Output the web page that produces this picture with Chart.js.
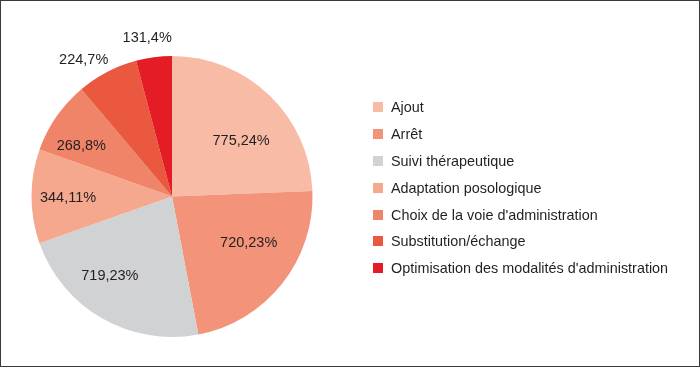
<!DOCTYPE html>
<html>
<head>
<meta charset="utf-8">
<script src="https://cdn.jsdelivr.net/npm/chart.js@4"></script>
<style>
    html, body { margin: 0; padding: 0; background: #fff; }
    #frame {
        position: relative;
        width: 700px;
        height: 367px;
        box-sizing: border-box;
        border: 1px solid #3a3a3a;
        font-family: "Liberation Sans", Arial, Helvetica, sans-serif;
    }
    #chartBox { position: absolute; left: -1px; top: -1px; width: 700px; height: 367px; }
    #legend { position: absolute; left: 372px; top: 93px; margin: 0; padding: 0; list-style: none; }
    #legend li { height: 26.8px; display: flex; align-items: center; font-size: 14.4px; color: #231f20; }
    #legend span { display: inline-block; width: 10px; height: 10px; margin-right: 8px; }
</style>
</head>
<body>
<div id="frame">
    <div id="chartBox"><canvas id="pieChart"></canvas></div>
    <ul id="legend"></ul>
</div>
<script>
const categories = ['Ajout', 'Arrêt', 'Suivi thérapeutique', 'Adaptation posologique',
    "Choix de la voie d'administration", 'Substitution/échange', "Optimisation des modalités d'administration"];
const counts = [775, 720, 719, 344, 268, 224, 131];
const percents = [24, 23, 23, 11, 8, 7, 4];
const colors = ['#F8BCA6', '#F2937A', '#D1D2D4', '#F6A88F', '#EF8468', '#E9583F', '#E31C25'];

// placement des libellés : distance au centre (fraction du rayon) et décalage d'angle (degrés)
const labelRadius = [0.63, 0.64, 0.72, 0.74, 0.74, 1.16, 1.14];
const labelShift = [7.5, -7, 8, -1, -5.4, -5.3, -1.5];

const sliceLabels = {
    id: 'sliceLabels',
    afterDatasetsDraw(chart) {
        const ctx = chart.ctx;
        const meta = chart.getDatasetMeta(0);
        ctx.save();
        ctx.font = '14.5px "Liberation Sans", Arial, sans-serif';
        ctx.fillStyle = '#231f20';
        ctx.textAlign = 'center';
        ctx.textBaseline = 'middle';
        meta.data.forEach((arc, i) => {
            const p = arc.getProps(['x', 'y', 'startAngle', 'endAngle', 'outerRadius'], true);
            const mid = (p.startAngle + p.endAngle) / 2 + labelShift[i] * Math.PI / 180;
            const r = p.outerRadius * labelRadius[i];
            ctx.fillText(counts[i] + ',' + percents[i] + '%', p.x + Math.cos(mid) * r, p.y + Math.sin(mid) * r);
        });
        ctx.restore();
    }
};

new Chart(document.getElementById('pieChart').getContext('2d'), {
    type: 'pie',
    data: {
        labels: categories,
        datasets: [{
            data: counts,
            backgroundColor: colors,
            borderWidth: 0
        }]
    },
    options: {
        responsive: true,
        maintainAspectRatio: false,
        animation: false,
        layout: { padding: { left: 31, top: 56, bottom: 30, right: 387 } },
        plugins: {
            legend: { display: false },
            tooltip: { enabled: false }
        }
    },
    plugins: [sliceLabels]
});

const legend = document.getElementById('legend');
categories.forEach((name, i) => {
    const li = document.createElement('li');
    const box = document.createElement('span');
    box.style.background = colors[i];
    li.appendChild(box);
    li.appendChild(document.createTextNode(name));
    legend.appendChild(li);
});
</script>
</body>
</html>
